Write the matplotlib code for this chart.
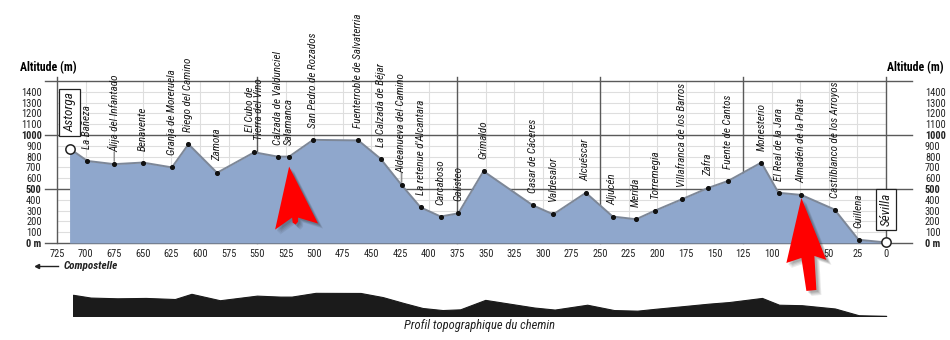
import matplotlib.pyplot as plt
from matplotlib.patches import Polygon

# Etapes de la Via de la Plata (km restants jusqu'a Seville, altitude en m)
villes = ["Astorga", "La Bañeza", "Álija del Infantado", "Benavente", "Granja de Moreruela",
          "Riego del Camino", "Zamora", "El Cubo de\nTierra del Vino", "Calzada de Valdunciel",
          "Salamanca", "San Pedro de Rozados", "Fuenterroble de Salvaterria", "La Calzada de Béjar",
          "Aldeanueva del Camino", "La retenue d'Alcantara", "Carcaboso", "Galisteo", "Grimaldo",
          "Casar de Cáceres", "Valdesalor", "Alcuéscar", "Aljucén", "Merida", "Torremegia",
          "Villafranca de los Barros", "Zafra", "Fuente de Cantos", "Monesterio",
          "El Real de la Jara", "Almadén de la Plata", "Castilblanco de los Arroyos",
          "Guillena", "Sévilla"]
km = [714, 698.5, 675, 650, 624.5, 610, 585, 552.5, 532, 522, 501, 461.5, 442, 423.5, 407,
      389.5, 374, 352, 309, 291, 262.5, 239, 218.5, 202, 178.5, 155.5, 138, 109, 94, 74,
      45, 24, 0]
altitude = [875, 760, 730, 745, 700, 915, 650, 840, 800, 800, 955, 950, 780, 535, 330,
            245, 275, 665, 350, 265, 465, 245, 220, 300, 405, 510, 575, 745, 465, 445,
            310, 30, 5]

km_ticks = list(range(725, -1, -25))
alt_ticks = list(range(0, 1500, 100))
separations = [725, 550, 375, 250, 125, 0]
avec_trait = ["Álija del Infantado", "Aldeanueva del Camino"]
fleches = ["Salamanca", "Almadén de la Plata"]

etroit = ["Liberation Sans Narrow", "Roboto Condensed", "DejaVu Sans Condensed", "DejaVu Sans"]
bleu = "#8fa7cc"

fig = plt.figure(figsize=(9.5, 3.4), dpi=100)
ax = fig.add_axes([57 / 950, 1 - 243 / 340, 829 / 950, 162 / 340])
ax.set_xlim(725, 0)
ax.set_ylim(0, 1500)
for s in ax.spines.values():
    s.set_visible(False)

# grille claire
for k in km_ticks:
    ax.axvline(k, color="#dedede", lw=0.8, zorder=0)
for a in alt_ticks[1:]:
    ax.axhline(a, color="#dedede", lw=0.8, zorder=0)

# grandes lignes sombres
for a in [0, 500, 1000, 1500]:
    ax.plot([-0.015, 1.031], [a, a], color="#5a5a5a", lw=1,
            transform=ax.get_yaxis_transform(), clip_on=False, zorder=1)
for k in separations:
    ax.plot([k, k], [0, 1.025], color="#5a5a5a", lw=1,
            transform=ax.get_xaxis_transform(), clip_on=False, zorder=1)

# profil
ax.fill_between(km, altitude, 0, color=bleu, lw=0, zorder=2)
ax.plot(km, altitude, color="#7d8797", lw=1.4, zorder=3)
ax.scatter(km[1:-1], altitude[1:-1], s=7, color="#111111", zorder=4)
ax.scatter([km[0], km[-1]], [altitude[0], altitude[-1]], s=45, facecolor="white",
           edgecolor="#222222", lw=1.1, zorder=5, clip_on=False)

# noms des villes
for i, nom in enumerate(villes):
    boite = None
    dy = 12
    taille = 8
    if i in (0, len(villes) - 1):
        boite = dict(boxstyle="square,pad=0.3", fc="white", ec="#222222", lw=0.9)
        dy = 16
        taille = 9.5
    ax.annotate(nom, xy=(km[i], altitude[i]), xytext=(0, dy), textcoords="offset pixels",
                rotation=90, ha="center", va="bottom", fontsize=taille, style="italic",
                family=etroit, color="#1a1a1a", linespacing=0.85, bbox=boite, zorder=6,
                annotation_clip=False)
    if nom in avec_trait:
        ax.annotate("", xy=(km[i], altitude[i]), xytext=(0, 15), textcoords="offset pixels",
                    arrowprops=dict(arrowstyle="-", color="#777777", lw=0.8))

# fleches rouges
tete = [(0, 0), (29, -57), (9, -51), (9, -55), (6.5, -58), (3.5, -56), (3, -51), (-14, -63)]
tige = [(0, 0), (25, -62), (13, -58), (15, -92), (5, -93), (0, -60), (-15, -65)]
formes = [(tete, -10), (tige, -3)]
for nom, (forme, decal) in zip(fleches, formes):
    i = villes.index(nom)
    x0, y0 = ax.transData.transform((km[i], altitude[i]))
    for j, alpha in enumerate([0.10, 0.10, 0.12, 0.15]):
        d = 5 - j
        pts = [(x0 + dx + d, y0 + decal + dy - d) for dx, dy in forme]
        ombre = Polygon(pts, closed=True, transform=None, fc="#303030", ec="none",
                        alpha=alpha, zorder=7)
        fig.add_artist(ombre)
    pts = [(x0 + dx, y0 + decal + dy) for dx, dy in forme]
    fig.add_artist(Polygon(pts, closed=True, transform=None, fc="#ff0000", ec="none", zorder=8))

# axes
ax.set_xticks(km_ticks)
ax.set_xticklabels([str(k) for k in km_ticks], fontsize=7.5, family=etroit, color="#222222")
ax.tick_params(axis="x", length=0, pad=4)
ax.set_yticks(alt_ticks)
etiquettes = ["0 m" if a == 0 else str(a) for a in alt_ticks]
ax.set_yticklabels(etiquettes, fontsize=7.5, family=etroit, color="#222222")
ax.tick_params(axis="y", length=0, pad=11)
droite = ax.secondary_yaxis("right")
droite.set_yticks(alt_ticks)
droite.set_yticklabels(etiquettes, fontsize=7.5, family=etroit, color="#222222")
droite.tick_params(length=0, pad=28)
droite.spines["right"].set_visible(False)
for lab in ax.get_yticklabels() + droite.get_yticklabels():
    if lab.get_text() in ("0 m", "500", "1000"):
        lab.set_fontweight("bold")

fig.text(20 / 950, 1 - 68 / 340, "Altitude (m)", fontsize=8.5, fontweight="bold",
         family=etroit, va="center", ha="left")
fig.text(887 / 950, 1 - 68 / 340, "Altitude (m)", fontsize=8.5, fontweight="bold",
         family=etroit, va="center", ha="left")

# vers Compostelle
fig.add_artist(plt.Line2D([37 / 950, 58 / 950], [1 - 266 / 340] * 2, color="#222222", lw=1))
fig.add_artist(plt.Line2D([37 / 950], [1 - 266 / 340], marker="<", ms=3, color="#222222"))
fig.text(64 / 950, 1 - 266 / 340, "Compostelle", fontsize=8, fontweight="bold", style="italic",
         family=etroit, va="center", ha="left", color="#222222")

# silhouette du profil
mini = fig.add_axes([73 / 950, 1 - 316 / 340, 820 / 950, 24 / 340])
mini.fill_between(km, altitude, 0, color="#1b1b1b", lw=0.8, edgecolor="#1b1b1b")
mini.set_xlim(km[0], -6)
mini.set_ylim(0, 990)
mini.axis("off")
fig.text(480 / 950, 1 - 325 / 340, "Profil topographique du chemin", fontsize=9,
         style="italic", family=etroit, ha="center", va="center", color="#222222")

fig.savefig("out.png", dpi=100)
